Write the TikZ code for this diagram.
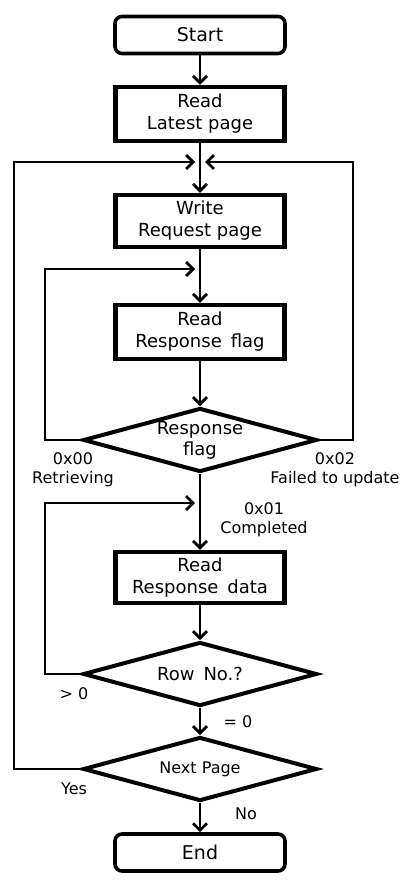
\documentclass[tikz,border=0pt]{standalone}
\usepackage{fontspec}
\setmainfont{DejaVu Sans}
\usetikzlibrary{shapes.geometric,arrows.meta}
\begin{document}
\begin{tikzpicture}[x=1pt,y=-1pt,
  conn/.style={line width=2.7pt,-{Straight Barb[length=7pt,width=14pt]}},
  term/.style={draw,line width=3.6pt,rounded corners=7pt,minimum width=170pt,minimum height=37pt,inner sep=0pt,font=\fontsize{19}{22}\selectfont},
  proc/.style={draw,line width=4.4pt,minimum width=169pt,inner sep=0pt,align=center,font=\fontsize{18}{22}\selectfont},
  dec/.style={draw,diamond,line width=4pt,minimum width=234pt,inner sep=0pt,aspect=3.5,align=center},
  lbl/.style={inner sep=0pt,anchor=north,align=center,font=\fontsize{16}{19}\selectfont}]
\useasboundingbox (0,0) rectangle (406,880);
\node[term] (start) at (200,35) {Start};
\node[proc,minimum height=54pt] (latest) at (200,114) {Read\\Latest page};
\node[proc,minimum height=52pt] (write) at (200,221) {Write\\Request page};
\node[proc,minimum height=54pt] (rflag) at (200,332) {Read\\Response\hspace{0.5em}flag};
\node[dec,minimum height=64pt,font=\fontsize{18}{21}\selectfont] (flag) at (200,440) {Response\\flag};
\node[proc,minimum height=51pt] (rdata) at (200,577.5) {Read\\Response\hspace{0.5em}data};
\node[dec,minimum height=64pt,font=\fontsize{18}{21}\selectfont] (row) at (200,674) {Row\hspace{0.5em}No.?};
\node[dec,minimum height=64pt,font=\fontsize{16}{19}\selectfont] (next) at (200,769) {Next Page};
\node[term] (end) at (200,852.5) {End};
\coordinate (m1) at (200,162);
\coordinate (m2) at (200,269);
\coordinate (m3) at (200,503);
\coordinate (xa) at (45,0);
\coordinate (xb) at (14,0);
\coordinate (xc) at (353,0);
\draw[conn] (start) -- (latest);
\draw[conn] (latest) -- (write);
\draw[conn] (write) -- (rflag);
\draw[conn] (rflag) -- (flag);
\draw[conn] (flag) -- (rdata);
\draw[conn] (rdata) -- (row);
\draw[conn] (row) -- (next);
\draw[conn] (next) -- (end);
\draw[conn] (flag.west) -- (flag.west -| xa) -- (xa |- m2) -- ([xshift=-5pt]m2);
\draw[conn] (flag.east) -- (flag.east -| xc) -- (xc |- m1) -- ([xshift=5pt]m1);
\draw[conn] (row.west) -- (row.west -| xa) -- (xa |- m3) -- ([xshift=-5pt]m3);
\draw[conn] (next.west) -- (next.west -| xb) -- (xb |- m1) -- ([xshift=-5pt]m1);
\node[lbl] (l00) at (73,452) {0x00\\Retrieving};
\node[lbl] (l02) at (335,452) {0x02\\Failed to update};
\node[lbl] (l01) at (264,502) {0x01\\Completed};
\node[lbl] (lgt) at (74,687) {> 0};
\node[lbl] (leq) at (238,715) {= 0};
\node[lbl] (lyes) at (74,783) {Yes};
\node[lbl] (lno) at (246,808) {No};
\end{tikzpicture}
\end{document}
